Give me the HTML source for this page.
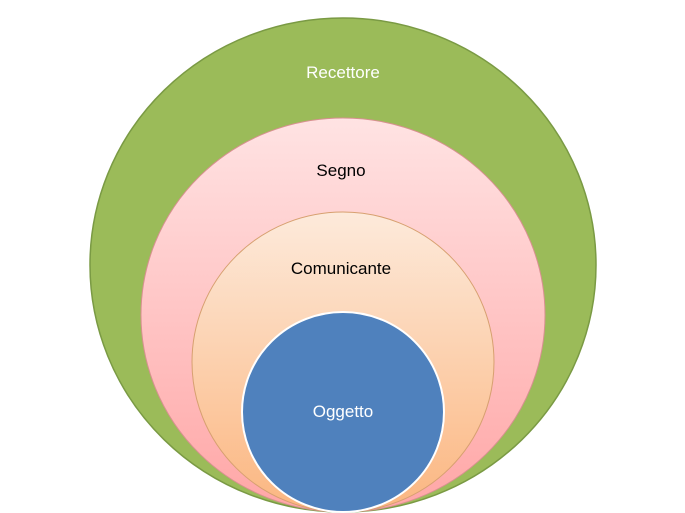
<!DOCTYPE html>
<html><head><style>body{margin:0;background:#fff}svg{display:block}</style></head><body>
<svg width="685" height="513" viewBox="0 0 685 513" xmlns="http://www.w3.org/2000/svg">
<defs>
<linearGradient id="p" x1="0" y1="0" x2="0" y2="1"><stop offset="0" stop-color="#ffe3e3"/><stop offset="1" stop-color="#ffa6a6"/></linearGradient>
<linearGradient id="o" x1="0" y1="0" x2="0" y2="1"><stop offset="0" stop-color="#fdeadb"/><stop offset="1" stop-color="#fbb680"/></linearGradient>
</defs>
<ellipse cx="343" cy="265" rx="253" ry="247" fill="#9bbb59" stroke="#7a9a44" stroke-width="1.5"/>
<ellipse cx="343" cy="315" rx="202" ry="197" fill="url(#p)" stroke="#d89090" stroke-width="1"/>
<ellipse cx="343" cy="362" rx="151" ry="150" fill="url(#o)" stroke="#d7a070" stroke-width="1"/>
<ellipse cx="343" cy="412" rx="101" ry="100" fill="#4f81bd" stroke="#fff" stroke-width="2"/>
<g font-family="Liberation Sans, sans-serif" font-size="17" text-anchor="middle">
<text x="343" y="78" fill="#fff">Recettore</text>
<text x="341" y="176" fill="#000">Segno</text>
<text x="341" y="274" fill="#000">Comunicante</text>
<text x="343" y="417" fill="#fff">Oggetto</text>
</g>
</svg>
</body></html>
